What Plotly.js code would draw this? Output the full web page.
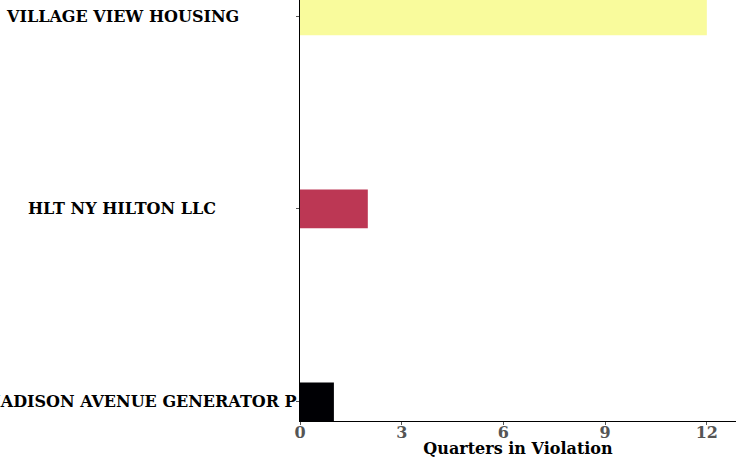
<!DOCTYPE html>
<html><head><meta charset="utf-8">
<script src="https://cdn.plot.ly/plotly-3.0.1.min.js"></script>
<style>html,body{margin:0;padding:0;background:#fff}</style>
</head><body><div id="chart" style="width:736px;height:458px"></div>
<script>
const categories = ["MADISON AVENUE GENERATOR P", "HLT NY HILTON LLC", "VILLAGE VIEW HOUSING"];
const quarters = [1, 2, 12];
const colors = ["#000004", "#bc3754", "#f9fb9c"];
const xTicks = [0, 3, 6, 9, 12];

const trace = {
  type: "bar", orientation: "h",
  x: quarters, y: categories,
  marker: {color: colors, line: {width: 0}},
  width: 0.2, hoverinfo: "x+y"
};
// category labels drawn as annotations so they can be centred like the reference
const plotLeft = 300, plotWidth = 436;
const labelFont = {family: "DejaVu Serif", size: 16, color: "#000", weight: "bold"};
const annotations = categories.map((c, i) => {
  const longLabel = c.length > 22;
  return {
    xref: "paper", yref: "y", y: c,
    x: longLabel ? (298.5 - plotLeft) / plotWidth : (122 - plotLeft) / plotWidth,
    xanchor: longLabel ? "right" : "center", yanchor: "middle",
    text: c, showarrow: false, font: labelFont
  };
});
const layout = {
  width: 736, height: 458,
  margin: {l: 300, r: 0, t: 0, b: 37, pad: 0},
  paper_bgcolor: "#fff", plot_bgcolor: "#fff",
  showlegend: false,
  font: {family: "DejaVu Serif", color: "#000"},
  annotations: annotations,
  xaxis: {
    range: [0, 12.86], tickvals: xTicks, ticktext: xTicks.map(String),
    showgrid: false, zeroline: false, showline: true, linecolor: "#000", linewidth: 1,
    ticks: "outside", ticklen: 3, tickcolor: "#555", tickwidth: 1,
    ticklabelstandoff: -6,
    tickfont: {family: "DejaVu Serif", size: 16, color: "#555", weight: "bold"},
    title: {text: "Quarters in Violation", standoff: 2, font: {family: "DejaVu Serif", size: 16, color: "#000", weight: "bold"}}
  },
  yaxis: {
    type: "category", categoryorder: "array", categoryarray: categories,
    range: [-0.1, 2.083],
    showgrid: false, zeroline: false, showline: true, linecolor: "#000", linewidth: 1,
    ticks: "outside", ticklen: 3, tickcolor: "#555", tickwidth: 1,
    showticklabels: false
  }
};
Plotly.newPlot("chart", [trace], layout, {displayModeBar: false, staticPlot: true});
</script></body></html>
